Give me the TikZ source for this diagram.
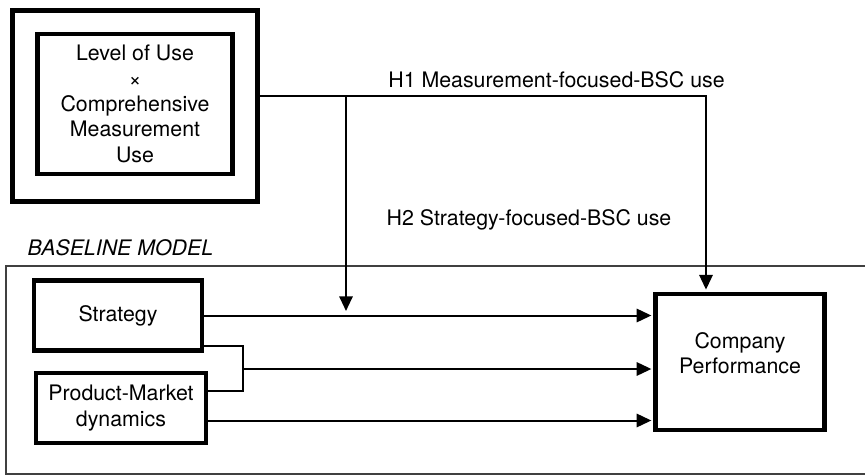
\documentclass[tikz,border=0pt]{standalone}
\usepackage{fontspec}
\setmainfont{TeX Gyre Heros}
\usetikzlibrary{positioning, arrows.meta}

\begin{document}
\begin{tikzpicture}[x=0.75pt, y=-0.75pt,
	font=\fontsize{16}{19}\selectfont,
	box/.style={draw, line width=3.2pt, align=center, inner sep=0pt},
	link/.style={line width=1.5pt, -{Triangle[length=11pt, width=10pt]}},
	bracket/.style={line width=1.1pt}]
	\useasboundingbox (0,0) rectangle (865,475);
	% baseline frame, open to the right
	\draw[black!75, line width=0.8pt] (866,266) -- (6,266) -- (6,474) -- (866,474);
	\node (base) [anchor=west, font=\fontsize{16}{19}\selectfont\itshape] at (23,248) {BASELINE MODEL};
	% moderator
	\node (outer) [box, minimum width=183.75pt, minimum height=143.25pt] at (135,106) {};
	\node (moder) [box, minimum width=146.25pt, minimum height=104.6pt] at (135,104)
		{Level of Use\\×\\Comprehensive\\Measurement\\Use};
	% baseline constructs
	\node (strat) [box, minimum width=126.4pt, minimum height=52.5pt] at (118,315.5) {Strategy};
	\node (pm) [box, minimum width=127.1pt, minimum height=52.5pt] at (121,408) {Product-Market\\dynamics};
	\node (perf) [box, minimum width=126.75pt, minimum height=102.4pt] at (740,362) {};
	\node (perftext) [align=center] at (740,353) {Company\\Performance};
	% hypotheses
	\node (hone) at (556.5,80) {H1 Measurement-focused-BSC use};
	\node (htwo) at (529,220) {H2 Strategy-focused-BSC use};
	\coordinate (split) at (346,96);
	\coordinate (bend) at (706,96);
	\coordinate (hit) at (346,311);
	\coordinate (join) at (243,369);
	\path (strat.south east) ++(0,-6.5) coordinate (sjoin);
	\path (pm.north east) ++(0,20) coordinate (pjoin);
	\path (pm.east) ++(0,12.5) coordinate (pout);
	\draw[link, shorten >=1.5pt] (outer.east |- split) -- (bend) -- (bend |- perf.north);
	\draw[link] (split) -- (hit);
	\draw[link, shorten >=1.5pt] (strat.east) -- (strat.east -| perf.west);
	\draw[bracket] (sjoin) -| (join) |- (pjoin);
	\draw[link, shorten >=1.5pt] (join) -- (join -| perf.west);
	\draw[link, shorten >=1.5pt] (pout) -- (pout -| perf.west);
\end{tikzpicture}
\end{document}
